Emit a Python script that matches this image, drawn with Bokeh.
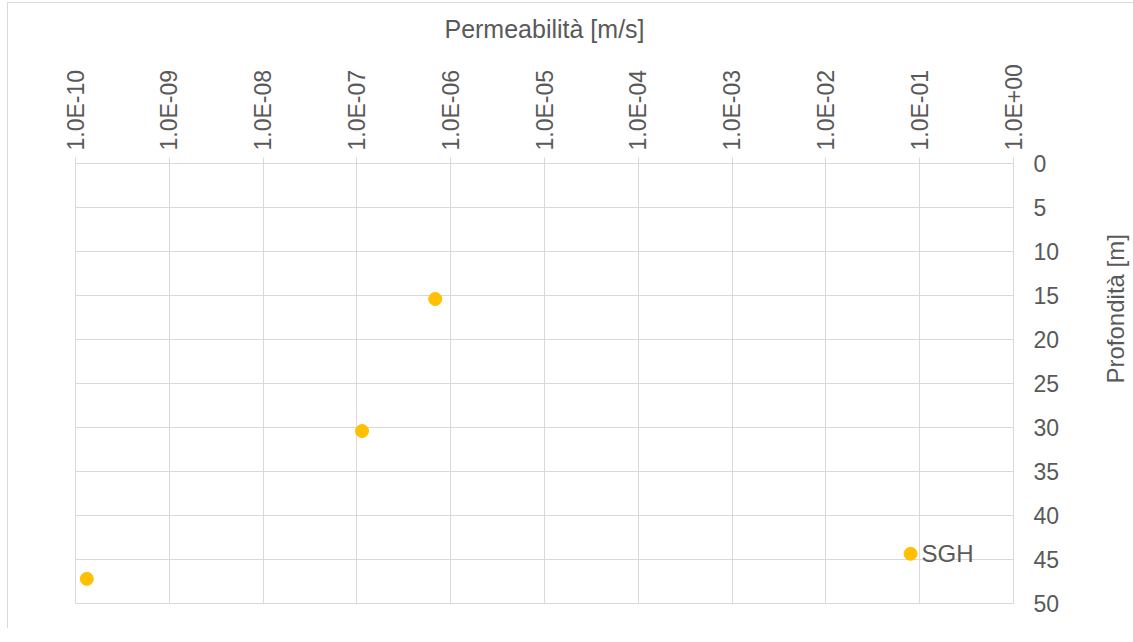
import math
from bokeh.plotting import figure
from bokeh.models import (Range1d, FixedTicker, CustomJSTickFormatter, ColumnDataSource,
                          LabelSet)
from bokeh.core.properties import value
from bokeh.embed import file_html
from bokeh.resources import INLINE

# ---- data ----
permeability = [1.32e-10, 1.135e-7, 6.84e-7, 8.0e-2]   # m/s
depth = [47.2, 30.4, 15.4, 44.35]                      # m
point_labels = ["", "", "", "SGH"]
x_ticks = [1e-10, 1e-9, 1e-8, 1e-7, 1e-6, 1e-5, 1e-4, 1e-3, 1e-2, 1e-1, 1e0]
y_ticks = [0, 5, 10, 15, 20, 25, 30, 35, 40, 45, 50]
x_title = "Permeabilità [m/s]"
y_title = "Profondità [m]"

FONT = "Liberation Sans"
TXT = "#595959"
GRID = "#d9d9d9"

p = figure(width=1125, height=625, output_backend="svg", toolbar_location=None,
           x_axis_type="log", x_axis_location="above", y_axis_location="right",
           x_range=Range1d(1e-10, 1e0), y_range=Range1d(50, 0),
           frame_width=938, frame_height=440,
           min_border_left=67, min_border_top=160, min_border_right=120, min_border_bottom=25)
p.background_fill_color = "white"
p.border_fill_color = "white"
p.outline_line_color = GRID
p.styles = {"border-left": "1px solid #d9d9d9", "border-top": "1px solid #d9d9d9",
            "margin-top": "2px", "margin-left": "7px"}

src = ColumnDataSource(dict(x=permeability, y=depth, lab=point_labels))
p.scatter("x", "y", source=src, size=13, color="#FFC000", line_color="#FFC000")
p.add_layout(LabelSet(x="x", y="y", text="lab", source=src, x_offset=11, y_offset=0,
                      text_baseline="middle", text_align="left", text_font=value(FONT),
                      text_font_size=value("24px"), text_color=value(TXT)))

# x axis (top)
xa = p.xaxis[0]
xa.ticker = FixedTicker(ticks=x_ticks, minor_ticks=[])
xa.formatter = CustomJSTickFormatter(code="""
const e = Math.round(Math.log10(tick));
return "1.0E" + (e < 0 ? "-" : "+") + String(Math.abs(e)).padStart(2, "0");
""")
xa.major_label_orientation = math.pi / 2
xa.axis_line_color = GRID
xa.major_tick_line_color = GRID
xa.major_tick_out = 6
xa.major_tick_in = 0
xa.minor_tick_line_color = None
xa.major_label_standoff = 7
xa.major_label_text_font = FONT
xa.major_label_text_font_size = "23px"
xa.major_label_text_color = TXT
xa.axis_label = x_title
xa.axis_label_text_font = FONT
xa.axis_label_text_font_size = "25px"
xa.axis_label_text_font_style = "normal"
xa.axis_label_text_color = TXT
xa.axis_label_standoff = 18

# y axis (right)
ya = p.yaxis[0]
ya.ticker = FixedTicker(ticks=y_ticks)
ya.axis_line_color = None
ya.major_tick_line_color = None
ya.minor_tick_line_color = None
ya.major_tick_out = 0
ya.major_tick_in = 0
ya.major_label_standoff = 20
ya.major_label_text_font = FONT
ya.major_label_text_font_size = "23px"
ya.major_label_text_color = TXT
ya.axis_label = y_title
ya.axis_label_orientation = math.pi / 2
ya.axis_label_text_font = FONT
ya.axis_label_text_font_size = "24px"
ya.axis_label_text_font_style = "normal"
ya.axis_label_text_color = TXT
ya.axis_label_standoff = 53

p.xgrid.ticker = FixedTicker(ticks=x_ticks, minor_ticks=[])
p.ygrid.ticker = FixedTicker(ticks=y_ticks)
p.xgrid.grid_line_color = GRID
p.ygrid.grid_line_color = GRID

open("out.html", "w").write(file_html(p, INLINE))
